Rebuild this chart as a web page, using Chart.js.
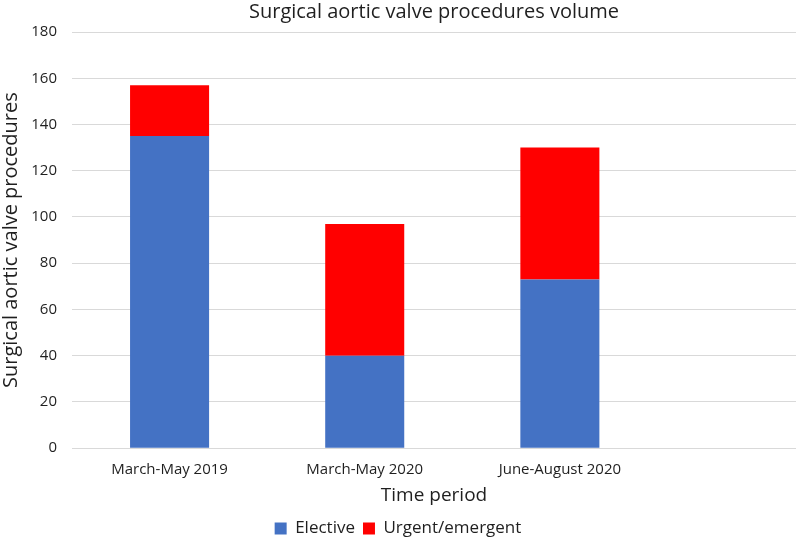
<!DOCTYPE html>
<html>
<head>
<meta charset="utf-8">
<title>Surgical aortic valve procedures volume</title>
<script src="https://cdn.jsdelivr.net/npm/chart.js@4"></script>
<style>
  html, body { margin: 0; padding: 0; background: #fff; }
  #wrap { width: 796px; height: 539px; }
</style>
</head>
<body>
<div id="wrap"><canvas id="grafico" width="796" height="539"></canvas></div>
<script>
const periodi = ['March-May 2019', 'March-May 2020', 'June-August 2020'];
const elective = [135, 40, 73];
const urgent = [22, 57, 57];
const yTicks = [0, 20, 40, 60, 80, 100, 120, 140, 160, 180];

const testo = '#1f1f1f';
const griglia = '#d9d9d9';
const font = 'Open Sans';

// bars sit on a linear x axis so the empty space on the right can be kept
function punti(valori) {
  return valori.map((v, i) => ({ x: i, y: v }));
}

new Chart(document.getElementById('grafico').getContext('2d'), {
  type: 'bar',
  data: {
    datasets: [
      { label: 'Elective', data: punti(elective), backgroundColor: '#4472c4' },
      { label: 'Urgent/emergent', data: punti(urgent), backgroundColor: '#ff0000' }
    ]
  },
  options: {
    responsive: false,
    animation: false,
    barPercentage: 0.405,
    categoryPercentage: 1,
    layout: { padding: { left: 0, right: 0, top: 0, bottom: -8 } },
    plugins: {
      title: {
        display: true,
        text: 'Surgical aortic valve procedures volume',
        color: testo,
        fullSize: false,
        font: { family: font, size: 20, weight: 'normal' },
        padding: { top: 0, bottom: 8 }
      },
      legend: {
        position: 'bottom',
        labels: {
          color: testo,
          boxWidth: 12,
          boxHeight: 12,
          padding: 8,
          font: { family: font, size: 17 }
        }
      },
      tooltip: { enabled: false }
    },
    scales: {
      x: {
        type: 'linear',
        stacked: true,
        offset: false,
        min: -0.5,
        max: 3.21,
        grid: { display: false, drawTicks: false },
        border: { display: true, color: griglia },
        ticks: {
          stepSize: 1,
          includeBounds: false,
          autoSkip: false,
          maxRotation: 0,
          padding: 13,
          color: testo,
          font: { family: font, size: 15 },
          callback: v => (Number.isInteger(v) && periodi[v]) ? periodi[v] : ''
        },
        title: {
          display: true,
          text: 'Time period',
          color: testo,
          font: { family: font, size: 19 },
          padding: { top: -8, bottom: 5 }
        }
      },
      y: {
        stacked: true,
        min: 0,
        max: 180,
        afterFit: s => { s.width = 72; },
        grid: { color: griglia, drawTicks: false },
        border: { display: false },
        afterBuildTicks: s => { s.ticks = yTicks.map(v => ({ value: v })); },
        ticks: {
          padding: 15,
          color: testo,
          font: { family: font, size: 15 }
        },
        title: {
          display: true,
          text: 'Surgical aortic valve procedures',
          color: testo,
          font: { family: font, size: 20 },
          padding: { top: -1, bottom: 0 }
        }
      }
    }
  }
});
</script>
</body>
</html>
